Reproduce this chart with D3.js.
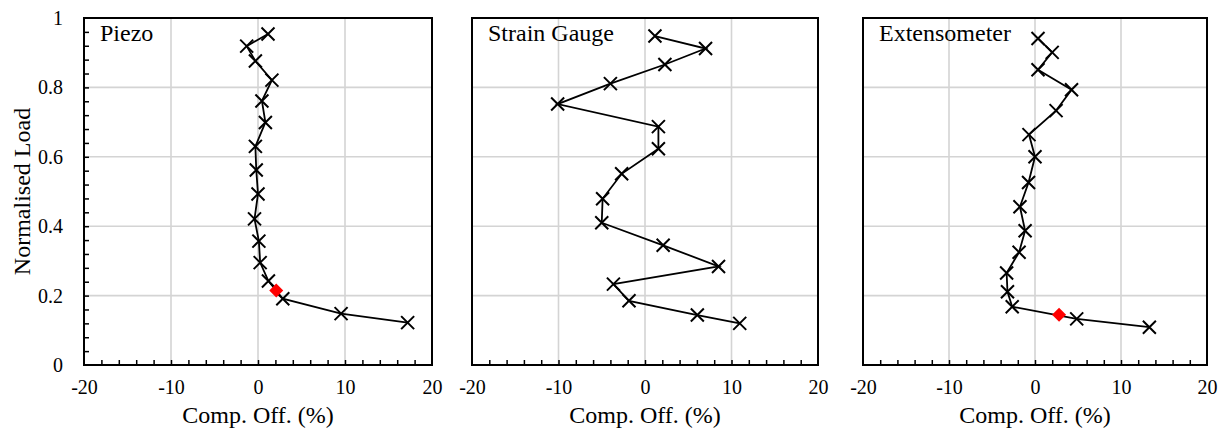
<!DOCTYPE html>
<html>
<head>
<meta charset="utf-8">
<script src="https://cdn.jsdelivr.net/npm/d3@7"></script>
<style>
  body { margin: 0; background: #fff; }
  text { font-family: "Liberation Serif", "Times New Roman", serif; fill: #000; }
</style>
</head>
<body>
<div class="chart"></div>
<script>
// panel names
var panelNames = ["Piezo", "Strain Gauge", "Extensometer"];

// compensation offset (%) and normalised load
var piezoOff  = [1.15, -1.3, -0.3, 1.6, 0.45, 0.85, -0.3, -0.2, 0.0, -0.4, 0.1, 0.25, 1.2, 2.85, 9.55, 17.2];
var piezoLoad = [0.954, 0.919, 0.876, 0.821, 0.761, 0.699, 0.630, 0.562, 0.493, 0.421, 0.357, 0.295, 0.242, 0.191, 0.148, 0.122];

var strainOff  = [1.15, 7.0, 2.3, -4.0, -10.1, 1.55, 1.55, -2.7, -4.9, -5.0, 2.1, 8.5, -3.65, -1.85, 6.05, 10.95];
var strainLoad = [0.948, 0.912, 0.866, 0.811, 0.752, 0.687, 0.623, 0.551, 0.479, 0.410, 0.345, 0.284, 0.233, 0.185, 0.144, 0.120];

var extOff  = [0.35, 2.0, 0.35, 4.25, 2.45, -0.7, 0.0, -0.75, -1.75, -1.15, -1.85, -3.3, -3.2, -2.65, 4.85, 13.3];
var extLoad = [0.941, 0.901, 0.851, 0.793, 0.733, 0.664, 0.600, 0.526, 0.456, 0.387, 0.325, 0.265, 0.211, 0.168, 0.133, 0.109];

// red diamond points (piezo, strain gauge has none, extensometer)
var redOff  = [2.1, null, 2.8];
var redLoad = [0.215, null, 0.145];

var xTicks = [-20, -10, 0, 10, 20];
var xTickLabels = ["-20", "-10", "0", "10", "20"];
var yTicks = [0, 0.2, 0.4, 0.6, 0.8, 1];
var yTickLabels = ["0", "0.2", "0.4", "0.6", "0.8", "1"];

var offs = [piezoOff, strainOff, extOff];
var loads = [piezoLoad, strainLoad, extLoad];

var width = 1223, height = 435;
var panelLeft = [84, 472, 863];
var panelRight = [432, 818, 1207];
var plotTop = 18, plotBottom = 365;

var svg = d3.select('.chart')
    .append('svg')
    .attr('width', width)
    .attr('height', height);

var y = d3.scaleLinear().domain([0, 1]).range([plotBottom, plotTop]);

panelNames.forEach(function(name, p) {
    var x = d3.scaleLinear().domain([-20, 20]).range([panelLeft[p], panelRight[p]]);
    var g = svg.append('g');

    // gridlines
    g.selectAll('.vgrid')
        .data(xTicks.slice(1, -1))
        .enter().append('line')
        .attr('x1', function(d){ return x(d); })
        .attr('x2', function(d){ return x(d); })
        .attr('y1', plotTop).attr('y2', plotBottom)
        .style('stroke', '#d4d4d4').style('stroke-width', 1.6);
    g.selectAll('.hgrid')
        .data(yTicks.slice(1, -1))
        .enter().append('line')
        .attr('x1', x(-20)).attr('x2', x(20))
        .attr('y1', function(d){ return y(d); })
        .attr('y2', function(d){ return y(d); })
        .style('stroke', '#d4d4d4').style('stroke-width', 1.6);

    // minor ticks on bottom, pointing in
    var minorX = d3.range(-18, 19, 2);
    g.append('g')
        .attr('transform', 'translate(0,' + plotBottom + ')')
        .call(d3.axisBottom(x).tickValues(minorX).tickSize(-5).tickFormat(''))
        .call(function(a){ a.select('.domain').remove(); a.selectAll('line').style('stroke-width', 1.5); });

    // x tick labels
    g.append('g')
        .attr('transform', 'translate(0,' + plotBottom + ')')
        .call(d3.axisBottom(x).tickValues(xTicks).tickSize(0).tickPadding(15)
            .tickFormat(function(d, i){ return xTickLabels[i]; }))
        .call(function(a){
            a.select('.domain').remove();
            a.selectAll('text').style('font-size', '20px').style('font-family', '"Liberation Serif", serif');
        });

    if (p === 0) {
        var minorY = d3.range(1, 25).map(function(i){ return i * 0.04; });
        g.append('g')
            .attr('transform', 'translate(' + panelLeft[p] + ',0)')
            .call(d3.axisLeft(y).tickValues(minorY).tickSize(-5).tickFormat(''))
            .call(function(a){ a.select('.domain').remove(); a.selectAll('line').style('stroke-width', 1.5); });

        g.append('g')
            .attr('transform', 'translate(' + panelLeft[p] + ',0)')
            .call(d3.axisLeft(y).tickValues(yTicks).tickSize(0).tickPadding(21)
                .tickFormat(function(d, i){ return yTickLabels[i]; }))
            .call(function(a){
                a.select('.domain').remove();
                a.selectAll('text').style('font-size', '20px').style('font-family', '"Liberation Serif", serif');
            });

        svg.append('text')
            .attr('transform', 'rotate(-90)')
            .attr('x', -(plotTop + plotBottom) / 2)
            .attr('y', 30)
            .style('text-anchor', 'middle')
            .style('font-size', '24px')
            .text('Normalised Load');
    }

    // plot border
    g.append('rect')
        .attr('x', panelLeft[p]).attr('y', plotTop)
        .attr('width', panelRight[p] - panelLeft[p])
        .attr('height', plotBottom - plotTop)
        .style('fill', 'none').style('stroke', '#000').style('stroke-width', 2);

    // data line
    var pts = offs[p].map(function(v, i){ return [v, loads[p][i]]; });
    var line = d3.line()
        .x(function(d){ return x(d[0]); })
        .y(function(d){ return y(d[1]); });
    g.append('path')
        .datum(pts)
        .attr('d', line)
        .style('fill', 'none').style('stroke', '#000').style('stroke-width', 1.8);

    // x markers
    var s = 6.5;
    g.selectAll('.mk')
        .data(pts)
        .enter().append('path')
        .attr('d', function(d){
            var cx = x(d[0]), cy = y(d[1]);
            return 'M' + (cx - s) + ',' + (cy - s) + 'L' + (cx + s) + ',' + (cy + s) +
                   'M' + (cx - s) + ',' + (cy + s) + 'L' + (cx + s) + ',' + (cy - s);
        })
        .style('stroke', '#000').style('stroke-width', 2).style('fill', 'none');

    // red diamond
    if (redOff[p] !== null) {
        var rx = x(redOff[p]), ry = y(redLoad[p]), r = 7;
        g.append('path')
            .attr('d', 'M' + rx + ',' + (ry - r) + 'L' + (rx + r) + ',' + ry +
                       'L' + rx + ',' + (ry + r) + 'L' + (rx - r) + ',' + ry + 'Z')
            .style('fill', '#ff0000').style('stroke', 'none');
    }

    // panel title
    g.append('text')
        .attr('x', panelLeft[p] + 16)
        .attr('y', 41)
        .style('font-size', '24px')
        .text(name);

    // x axis title
    g.append('text')
        .attr('x', (panelLeft[p] + panelRight[p]) / 2)
        .attr('y', 423)
        .style('text-anchor', 'middle')
        .style('font-size', '24px')
        .text('Comp. Off. (%)');
});
</script>
</body>
</html>
